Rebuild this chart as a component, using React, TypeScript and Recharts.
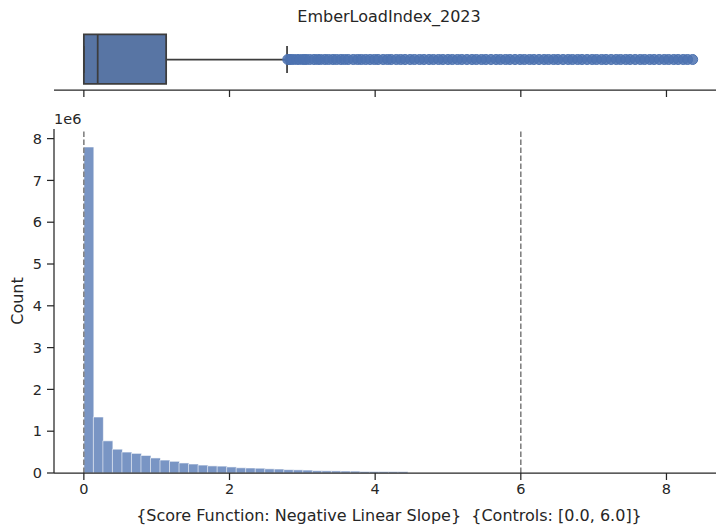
import React from 'react';
import {
  ComposedChart,
  Bar,
  XAxis,
  YAxis,
  ReferenceLine,
  ReferenceArea,
  Scatter,
  Label,
} from 'recharts';

// ---- data ----
const BIN_WIDTH = 0.1307; // histogram bin width (x units)
const binCounts = [
  7800000, 1340000, 770000, 570000, 500000, 470000, 420000, 360000, 310000, 280000,
  240000, 215000, 190000, 170000, 165000, 145000, 125000, 120000, 115000, 100000,
  95000, 80000, 75000, 70000, 55000, 52000, 50000, 47000, 45000, 36000,
  35000, 34000, 33000, 32000,
];
const xTicks = [0, 2, 4, 6, 8];
const yTicks = [0, 1000000, 2000000, 3000000, 4000000, 5000000, 6000000, 7000000, 8000000];
const controlLines = [0, 6];
const boxStats = { low: 0.0, q1: 0.0, median: 0.19, q3: 1.13, high: 2.79 };
const outliers = [
  2.8, 2.83, 2.87, 2.92, 2.96, 3.01, 3.05, 3.1, 3.16, 3.21, 3.25, 3.31, 3.36, 3.42, 3.47,
  3.53, 3.58, 3.63, 3.7, 3.76, 3.81, 3.87, 3.93, 3.99, 4.04, 4.11, 4.17, 4.22, 4.29, 4.35,
  4.41, 4.48, 4.54, 4.61, 4.67, 4.74, 4.8, 4.87, 4.93, 5.0, 5.06, 5.13, 5.19, 5.26, 5.33,
  5.39, 5.46, 5.52, 5.59, 5.66, 5.72, 5.79, 5.85, 5.92, 5.99, 6.05, 6.12, 6.18, 6.25, 6.32,
  6.38, 6.45, 6.51, 6.58, 6.65, 6.71, 6.78, 6.84, 6.91, 6.98, 7.04, 7.11, 7.17, 7.24, 7.31,
  7.37, 7.44, 7.5, 7.57, 7.64, 7.7, 7.77, 7.83, 7.9, 7.97, 8.03, 8.1, 8.16, 8.23, 8.29, 8.36,
];
const title = 'EmberLoadIndex_2023';
const xLabel = '{Score Function: Negative Linear Slope}\u00A0\u00A0{Controls: [0.0, 6.0]}';
const yLabel = 'Count';
const yScaleLabel = '1e6';

const histData = binCounts.map((count, i) => ({ x: (i + 0.5) * BIN_WIDTH, count }));
const outlierData = outliers.map((v) => ({ x: v, y: 0.5 }));

// ---- styles ----
const FONT = 'DejaVu Sans';
const INK = '#262626';
const X_DOMAIN: [number, number] = [-0.41, 8.79];
const CHART_W = 724;
const AXIS_W = 54;
const TICK_FS = 14.5;
const LABEL_FS = 16;

export default function App() {
  return (
    <div
      style={{
        position: 'absolute',
        left: 0,
        top: 0,
        width: 716,
        height: 525,
        overflow: 'hidden',
        background: '#fff',
        fontFamily: FONT,
      }}
    >
      {/* Histogram panel */}
      <div style={{ position: 'absolute', left: 0, top: 0 }}>
        <ComposedChart
          width={CHART_W}
          height={525}
          data={histData}
          margin={{ top: 129, right: 0, bottom: 0, left: 0 }}
          barCategoryGap={0}
          barGap={0}
        >
          <XAxis
            dataKey="x"
            type="number"
            domain={X_DOMAIN}
            ticks={xTicks}
            allowDataOverflow
            height={52}
            tickSize={7}
            tickMargin={4}
            stroke={INK}
            strokeWidth={1.25}
            tick={{ fill: INK, fontSize: TICK_FS, fontFamily: FONT }}
          >
            <Label
              value={xLabel}
              position="insideBottom"
              offset={4}
              style={{ fill: INK, fontSize: LABEL_FS, fontFamily: FONT }}
            />
          </XAxis>
          <YAxis
            type="number"
            domain={[0, 8230000]}
            ticks={yTicks}
            allowDataOverflow
            width={AXIS_W}
            tickSize={7}
            tickMargin={5}
            stroke={INK}
            strokeWidth={1.25}
            tickFormatter={(v: number) => String(v / 1000000)}
            tick={{ fill: INK, fontSize: TICK_FS, fontFamily: FONT }}
          >
            <Label
              value={yLabel}
              angle={-90}
              position="insideLeft"
              offset={17}
              style={{ fill: INK, fontSize: LABEL_FS, fontFamily: FONT, textAnchor: 'middle' }}
            />
          </YAxis>
          <Bar
            dataKey="count"
            fill="#4C72B0"
            fillOpacity={0.75}
            stroke="#ffffff"
            strokeWidth={0.6}
            isAnimationActive={false}
          />
          {controlLines.map((v) => (
            <ReferenceLine
              key={v}
              x={v}
              stroke="#7a7a7a"
              strokeWidth={1.5}
              strokeDasharray="5.5 2.5"
            />
          ))}
        </ComposedChart>
      </div>

      {/* 1e6 offset text */}
      <div
        style={{
          position: 'absolute',
          left: 54,
          top: 111,
          fontSize: TICK_FS,
          color: INK,
          fontFamily: FONT,
          lineHeight: '17px',
        }}
      >
        {yScaleLabel}
      </div>

      {/* Title */}
      <div
        style={{
          position: 'absolute',
          left: AXIS_W,
          width: CHART_W - AXIS_W,
          top: 7,
          textAlign: 'center',
          fontSize: LABEL_FS,
          color: INK,
          fontFamily: FONT,
          lineHeight: '20px',
        }}
      >
        {title}
      </div>

      {/* Boxplot panel */}
      <div style={{ position: 'absolute', left: 0, top: 0 }}>
        <ComposedChart
          width={CHART_W}
          height={100}
          margin={{ top: 29, right: 0, bottom: 0, left: AXIS_W }}
        >
          <XAxis
            dataKey="x"
            type="number"
            domain={X_DOMAIN}
            ticks={xTicks}
            allowDataOverflow
            height={10}
            tickSize={7}
            stroke={INK}
            strokeWidth={1.25}
            tickFormatter={() => ''}
          />
          <YAxis type="number" dataKey="y" domain={[0, 1]} hide />
          <ReferenceArea
            x1={boxStats.q1}
            x2={boxStats.q3}
            y1={0.1}
            y2={0.91}
            fill="#5875A4"
            fillOpacity={1}
            stroke="#3d3d3d"
            strokeWidth={1.75}
          />
          <ReferenceLine
            segment={[
              { x: boxStats.median, y: 0.1 },
              { x: boxStats.median, y: 0.91 },
            ]}
            stroke="#3d3d3d"
            strokeWidth={1.75}
          />
          <ReferenceLine
            segment={[
              { x: boxStats.q3, y: 0.5 },
              { x: boxStats.high, y: 0.5 },
            ]}
            stroke="#3d3d3d"
            strokeWidth={1.75}
          />
          <ReferenceLine
            segment={[
              { x: boxStats.high, y: 0.28 },
              { x: boxStats.high, y: 0.72 },
            ]}
            stroke="#3d3d3d"
            strokeWidth={1.75}
          />
          <ReferenceLine
            segment={[
              { x: boxStats.low, y: 0.28 },
              { x: boxStats.low, y: 0.72 },
            ]}
            stroke="#3d3d3d"
            strokeWidth={1.75}
          />
          <Scatter
            data={outlierData}
            dataKey="y"
            isAnimationActive={false}
            shape={(p: any) => (
              <circle
                cx={p.cx}
                cy={p.cy}
                r={5}
                fill="#4C72B0"
                fillOpacity={0.85}
                stroke="#4C72B0"
                strokeWidth={1}
              />
            )}
          />
        </ComposedChart>
      </div>
    </div>
  );
}
